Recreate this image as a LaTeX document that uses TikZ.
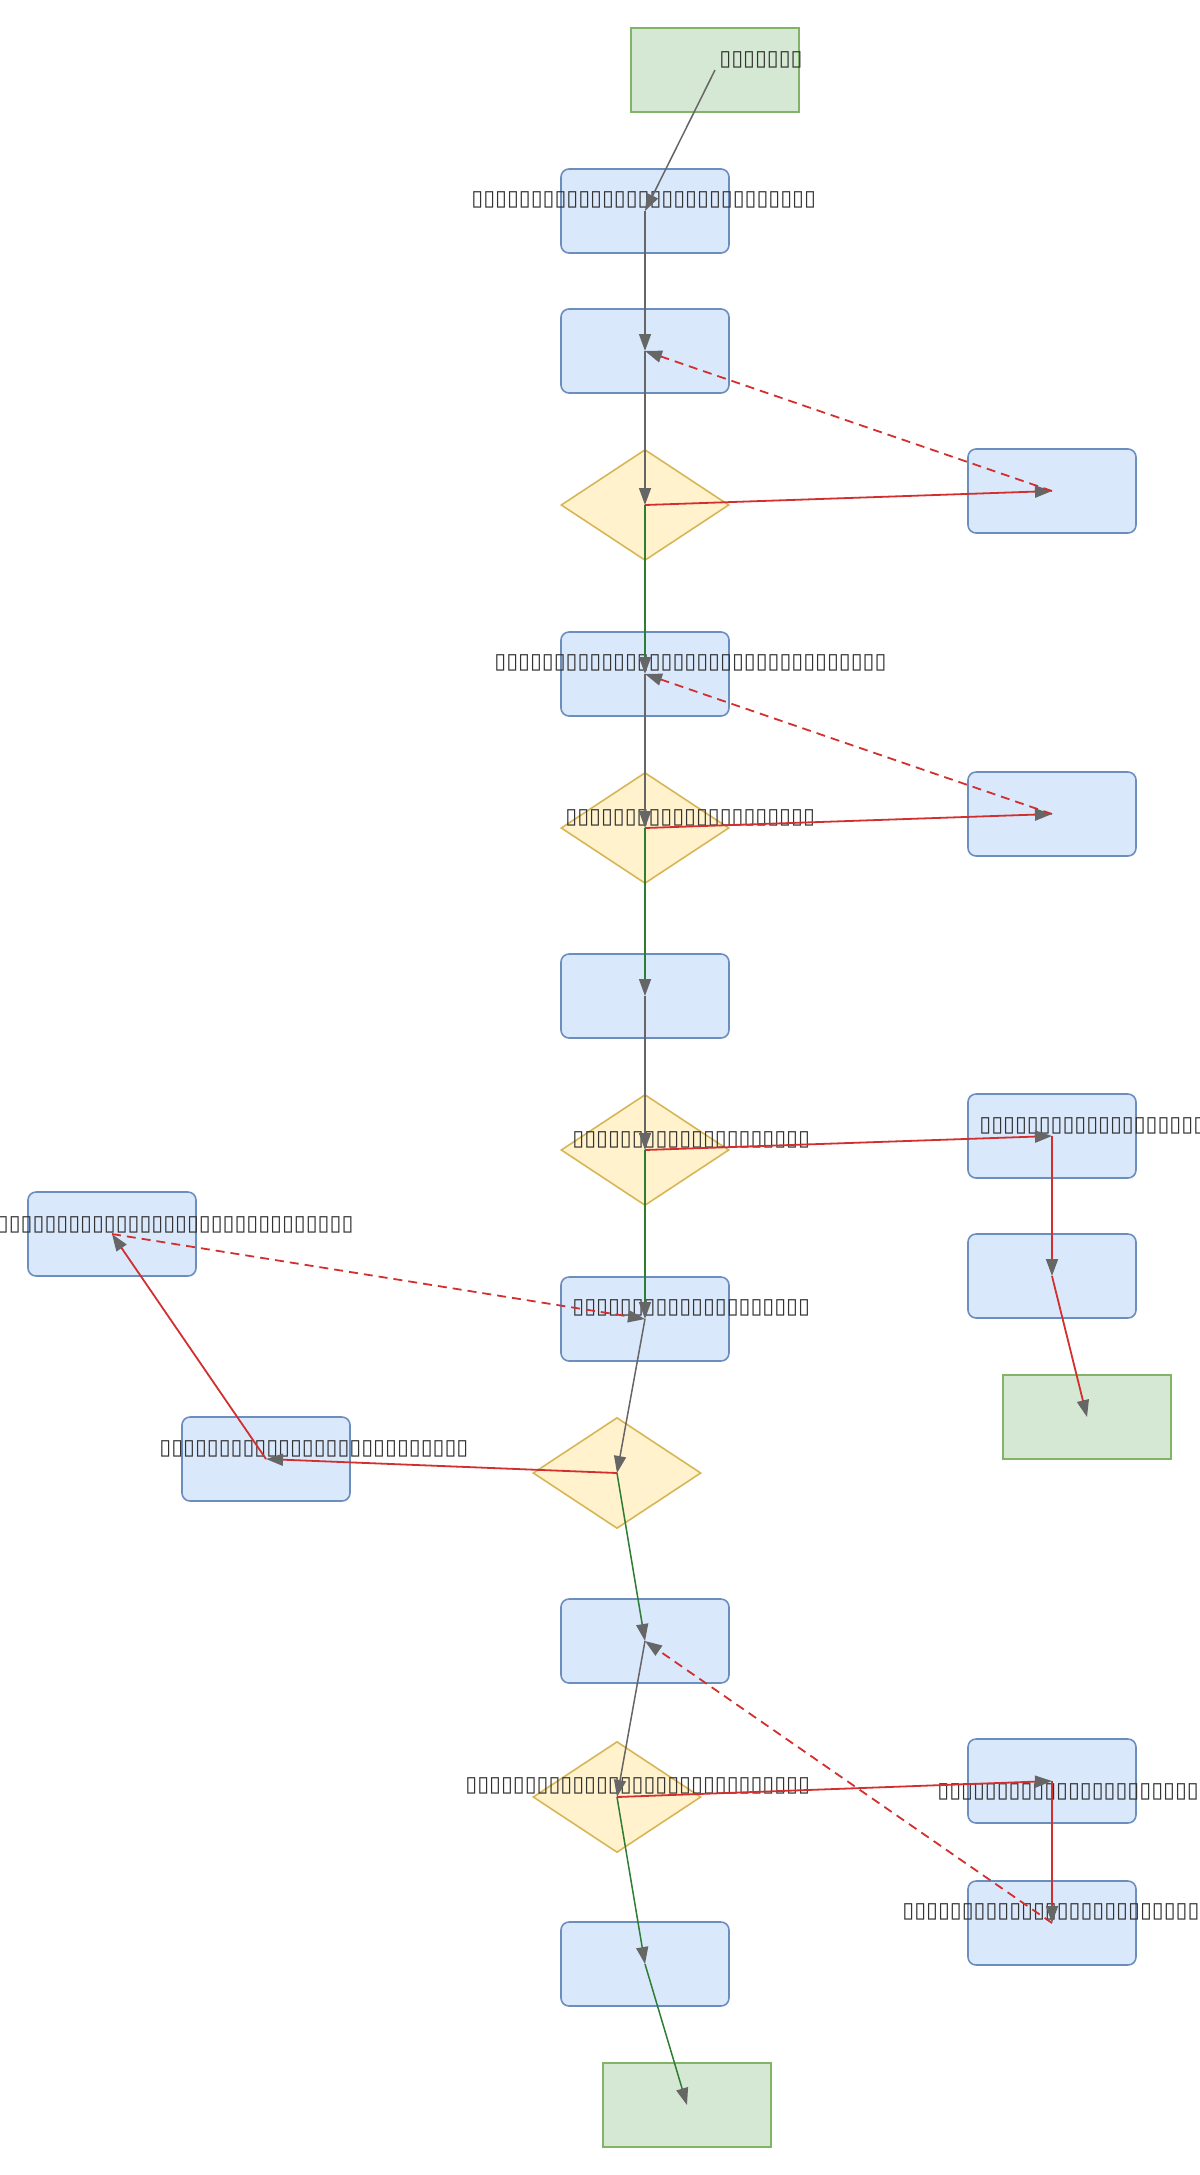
\documentclass[tikz,border=0pt]{standalone}
\usepackage{fontspec}
\setmainfont{DejaVu Sans}
\usetikzlibrary{shapes.geometric,arrows.meta}
\definecolor{procfill}{HTML}{DAE8FC}
\definecolor{procline}{HTML}{6C8EBF}
\definecolor{condfill}{HTML}{FFF2CC}
\definecolor{condline}{HTML}{D6B656}
\definecolor{termfill}{HTML}{D5E8D4}
\definecolor{termline}{HTML}{82B366}
\definecolor{flowgray}{HTML}{666666}
\definecolor{nored}{HTML}{D32F2F}
\definecolor{yesgreen}{HTML}{2E7D32}
\definecolor{txtgray}{HTML}{333333}
\begin{document}
\begin{tikzpicture}[x=0.5pt,y=-0.5pt,
    proc/.style={draw=procline,fill=procfill,rounded corners=4pt,line width=0.8pt,minimum width=84pt,minimum height=42pt,inner sep=0pt},
    cond/.style={diamond,draw=condline,fill=condfill,line width=0.8pt,minimum width=84pt,minimum height=55.5pt,inner sep=0pt},
    term/.style={draw=termline,fill=termfill,line width=0.8pt,minimum width=84pt,minimum height=42pt,inner sep=0pt},
    lbl/.style={text=txtgray,inner sep=0pt,font=\fontsize{10.8}{11}\selectfont},
    flow/.style={draw=flowgray,line width=0.75pt,-{Triangle[length=8.5pt,width=6pt,color=flowgray]}},
    yes/.style={flow,draw=yesgreen},
    no/.style={flow,draw=nored,line width=0.9pt},
    back/.style={no,dash pattern=on 4.5pt off 3pt}]
    \useasboundingbox (0,0) rectangle (1200,2175);
    \clip (0,0) rectangle (1200,2175);
    % main column
    \node[term] (start) at (715,70) {};
    \node[proc] (n2) at (645,211) {};
    \node[proc] (n3) at (645,351) {};
    \node[cond] (d1) at (645,505) {};
    \node[proc] (n4) at (645,674) {};
    \node[cond] (d2) at (645,828) {};
    \node[proc] (n5) at (645,996) {};
    \node[cond] (d3) at (645,1150) {};
    \node[proc] (n6) at (645,1319) {};
    \node[cond] (d4) at (617,1473) {};
    \node[proc] (n7) at (645,1641) {};
    \node[cond] (d5) at (617,1797) {};
    \node[proc] (n8) at (645,1964) {};
    \node[term] (e3) at (687,2105) {};
    % side branches
    \node[proc] (r1) at (1052,491) {};
    \node[proc] (r2) at (1052,814) {};
    \node[proc] (r3) at (1052,1136) {};
    \node[proc] (r4) at (1052,1276) {};
    \node[term] (e2) at (1087,1417) {};
    \node[proc] (l1) at (112,1234) {};
    \node[proc] (l2) at (266,1459) {};
    \node[proc] (r5) at (1052,1781) {};
    \node[proc] (r6) at (1052,1923) {};
    % labels
    \node[lbl,anchor=west] (start-t) at (719,60) {▯▯▯▯▯▯▯};
    \node[lbl,anchor=west] (n2-t) at (471,200) {▯▯▯▯▯▯▯▯▯▯▯▯▯▯▯▯▯▯▯▯▯▯▯▯▯▯▯▯▯};
    \node[lbl,anchor=west] (n4-t) at (494,663) {▯▯▯▯▯▯▯▯▯▯▯▯▯▯▯▯▯▯▯▯▯▯▯▯▯▯▯▯▯▯▯▯▯};
    \node[lbl,anchor=west] (d2-t) at (565,818) {▯▯▯▯▯▯▯▯▯▯▯▯▯▯▯▯▯▯▯▯▯};
    \node[lbl,anchor=west] (d3-t) at (572,1140) {▯▯▯▯▯▯▯▯▯▯▯▯▯▯▯▯▯▯▯▯};
    \node[lbl,anchor=west] (r3-t) at (979,1126) {▯▯▯▯▯▯▯▯▯▯▯▯▯▯▯▯▯▯▯▯};
    \node[lbl,anchor=west] (n6-t) at (572,1308) {▯▯▯▯▯▯▯▯▯▯▯▯▯▯▯▯▯▯▯▯};
    \node[lbl,anchor=east] (l1-t) at (354,1225) {▯▯▯▯▯▯▯▯▯▯▯▯▯▯▯▯▯▯▯▯▯▯▯▯▯▯▯▯▯▯▯▯▯▯};
    \node[lbl,anchor=west] (l2-t) at (159,1449) {▯▯▯▯▯▯▯▯▯▯▯▯▯▯▯▯▯▯▯▯▯▯▯▯▯▯};
    \node[lbl,anchor=west] (d5-t) at (465,1786) {▯▯▯▯▯▯▯▯▯▯▯▯▯▯▯▯▯▯▯▯▯▯▯▯▯▯▯▯▯};
    \node[lbl,anchor=west] (r5-t) at (937,1792) {▯▯▯▯▯▯▯▯▯▯▯▯▯▯▯▯▯▯▯▯▯▯▯▯};
    \node[lbl,anchor=west] (r6-t) at (902,1912) {▯▯▯▯▯▯▯▯▯▯▯▯▯▯▯▯▯▯▯▯▯▯▯▯▯▯▯};
    % connectors
    \draw[flow] (start.center) -- (n2.center);
    \draw[flow] (n2.center) -- (n3.center);
    \draw[flow] (n3.center) -- (d1.center);
    \draw[no] (d1.center) -- (r1.center);
    \draw[back] (r1.center) -- (n3.center);
    \draw[yes] (d1.center) -- (n4.center);
    \draw[flow] (n4.center) -- (d2.center);
    \draw[no] (d2.center) -- (r2.center);
    \draw[back] (r2.center) -- (n4.center);
    \draw[yes] (d2.center) -- (n5.center);
    \draw[flow] (n5.center) -- (d3.center);
    \draw[no] (d3.center) -- (r3.center);
    \draw[no] (r3.center) -- (r4.center);
    \draw[no] (r4.center) -- (e2.center);
    \draw[yes] (d3.center) -- (n6.center);
    \draw[flow] (n6.center) -- (d4.center);
    \draw[no] (d4.center) -- (l2.center);
    \draw[no] (l2.center) -- (l1.center);
    \draw[back] (l1.center) -- (n6.center);
    \draw[yes] (d4.center) -- (n7.center);
    \draw[flow] (n7.center) -- (d5.center);
    \draw[no] (d5.center) -- (r5.center);
    \draw[no] (r5.center) -- (r6.center);
    \draw[back] (r6.center) -- (n7.center);
    \draw[yes] (d5.center) -- (n8.center);
    \draw[yes] (n8.center) -- (e3.center);
\end{tikzpicture}
\end{document}
